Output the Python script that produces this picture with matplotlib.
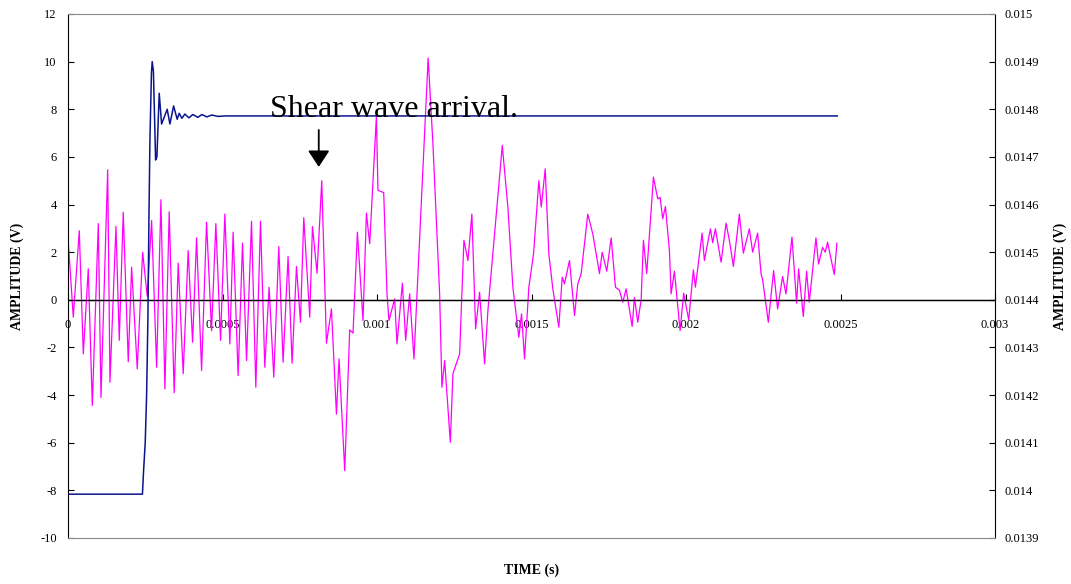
import matplotlib
matplotlib.use('Agg')
import matplotlib.pyplot as plt
from matplotlib.ticker import FuncFormatter, MultipleLocator
import numpy as np

plt.rcParams['font.family'] = ['Liberation Serif', 'DejaVu Serif']
plt.rcParams['axes.unicode_minus'] = False

# Trigger signal (blue), time in microseconds, amplitude in V
trig_t_us = [0, 240.9, 244.7, 249.9, 254.4, 258.6, 261.9, 265.1, 270.0, 272.5, 276.4,
             283.5, 287.7, 295.2, 302.9, 321.0, 329.8, 341.7, 353.4, 359.8, 368.6,
             378.3, 391.2, 404.1, 420.3, 433.2, 449.4, 465.6, 485.0, 507.6, 2489.5]
trig_v = [-8.16, -8.16, -7.15, -6.0, -4.0, -0.77, 3.4, 6.7, 9.5, 10.0, 9.6,
          5.87, 6.0, 8.67, 7.38, 8.0, 7.38, 8.14, 7.58, 7.83, 7.62,
          7.8, 7.64, 7.78, 7.66, 7.78, 7.68, 7.76, 7.7, 7.72, 7.72]

# Receiver signal (magenta), time in microseconds, amplitude in V
recv_t_us = [0, 17.1, 36.5, 49.5, 65.6, 78.6, 98.0, 106.7, 128.4, 135.8, 155.2, 165.9,
             178.8, 195.0, 205.9, 224.1, 241.5, 256.4, 270.6, 286.8, 300.7, 313.6,
             327.5, 343.7, 356.6, 372.8, 388.9, 403.2, 416.1, 432.3, 448.4, 464.6,
             478.5, 493.7, 507.6, 523.8, 534.4, 550.6, 564.8, 577.8, 593.9, 607.8,
             623.0, 636.9, 650.8, 666.0, 682.2, 696.1, 712.2, 725.2, 739.4, 752.3,
             763.0, 782.4, 791.1, 806.0, 821.2, 836.4, 852.6, 868.7, 877.1, 895.6,
             911.7, 922.4, 936.6, 954.7, 965.7, 976.4, 998.0, 1003.2, 1021.7, 1032.3,
             1038.8, 1057.2, 1064.7, 1082.1, 1092.8, 1105.7, 1119.6, 1165.5, 1181.0,
             1202.7, 1210.1, 1218.9, 1237.3, 1245.7, 1267.4, 1281.3, 1294.2, 1307.1,
             1319.1, 1332.0, 1348.2, 1358.9, 1405.4, 1423.5, 1439.7, 1459.1, 1467.8,
             1477.5, 1491.4, 1506.6, 1523.8, 1531.5, 1544.4, 1556.1, 1569.0, 1588.4,
             1599.4, 1606.8, 1623.0, 1639.2, 1649.8, 1660.8, 1682.1, 1698.3, 1720.0,
             1728.7, 1743.6, 1757.8, 1771.7, 1784.7, 1795.3, 1806.3, 1825.7, 1833.2,
             1843.8, 1854.8, 1862.2, 1872.9, 1894.6, 1908.5, 1916.2, 1924.7, 1933.4,
             1946.3, 1951.8, 1962.5, 1980.9, 1992.5, 2008.7, 2023.9, 2030.4, 2041.1,
             2052.1, 2059.5, 2078.9, 2086.3, 2095.1, 2113.5, 2129.7, 2140.3, 2153.3,
             2172.7, 2185.6, 2205.0, 2215.7, 2231.8, 2242.8, 2248.0, 2266.4, 2283.5,
             2296.5, 2312.6, 2323.6, 2343.0, 2357.9, 2364.4, 2379.6, 2390.3, 2398.9,
             2420.6, 2429.0, 2441.9, 2450.7, 2458.1, 2479.8, 2488.5]
recv_v = [2.6, -0.73, 2.9, -2.27, 1.3, -4.44, 3.2, -4.1, 5.46, -3.46, 3.08, -1.7,
          3.68, -2.6, 1.37, -2.9, 2.0, 0.15, 3.33, -2.83, 4.2, -3.74,
          3.7, -3.9, 1.54, -3.1, 2.07, -1.78, 2.6, -2.97, 3.26, -1.3,
          3.2, -1.7, 3.6, -1.85, 2.84, -3.18, 2.38, -2.55, 3.3, -3.67,
          3.3, -2.83, 0.53, -3.25, 2.24, -2.62, 1.82, -2.66, 1.4, -0.94,
          3.45, -0.73, 3.08, 1.12, 5.0, -1.82, -0.38, -4.8, -2.48, -7.17,
          -1.26, -1.4, 2.84, -0.87, 3.64, 2.35, 7.7, 4.6, 4.5, 0.25,
          -0.87, 0.04, -1.85, 0.7, -1.7, 0.25, -2.48, 10.15, 6.55,
          0.25, -3.67, -2.55, -5.98, -3.1, -2.27, 2.5, 1.65, 3.6,
          -1.22, 0.32, -2.69, -0.45, 6.48, 3.9, 0.53, -1.57, -0.59,
          -2.48, 0.53, 1.93, 5.0, 3.9, 5.5, 1.93, 0.46, -1.15,
          0.95, 0.67, 1.65, -0.66, 0.67, 1.1, 3.6, 2.77, 1.1,
          2.0, 1.2, 2.6, 0.53, 0.4, -0.1, 0.46, -1.12, 0.1,
          -0.94, 0.0, 2.5, 1.1, 5.15, 4.24, 4.3, 3.4, 3.92,
          2.07, 0.25, 1.2, -1.29, 0.28, -0.84, 1.26, 0.53, 1.65,
          2.8, 1.65, 2.98, 2.4, 2.98, 1.58, 3.22, 2.5, 1.4,
          3.6, 1.96, 2.98, 2.0, 2.8, 1.1, 0.84, -0.94, 1.23,
          -0.38, 0.98, 0.25, 2.63, -0.14, 1.3, -0.7, 1.2, -0.1,
          2.6, 1.5, 2.2, 2.0, 2.42, 1.06, 2.38]

arrow_t_us = 811.5
arrow_from_v = 7.13
arrow_to_v = 5.58
label_t_us = 653
label_v = 7.68

trig_t = np.array(trig_t_us) * 1e-6
recv_t = np.array(recv_t_us) * 1e-6

fig = plt.figure(figsize=(10.71, 5.84), dpi=100)
ax = fig.add_axes([68 / 1071, 1 - 538 / 584, (995 - 68) / 1071, (538 - 14) / 584])
ax2 = ax.twinx()

ax.set_xlim(0, 0.003)
ax.set_ylim(-10, 12)
ax2.set_ylim(0.0139, 0.015)

ax.axhline(0, color='black', lw=1.0, zorder=1)
ax.plot(recv_t, recv_v, color='#ff00ff', lw=0.9, zorder=2)
ax.plot(trig_t, trig_v, color='#0a148c', lw=1.1, zorder=3)

# spines: gray frame top/bottom, black value axes, x axis on the zero line
ax.spines['top'].set_visible(False)
ax.spines['right'].set_visible(False)
ax.spines['left'].set_color('black')
ax.spines['bottom'].set_position(('data', 0))
ax.spines['bottom'].set_color('black')
ax2.spines['left'].set_visible(False)
ax2.spines['top'].set_color('#888888')
ax2.spines['bottom'].set_color('#888888')
ax2.spines['right'].set_color('black')

ax.xaxis.set_major_locator(MultipleLocator(0.0005))
ax.yaxis.set_major_locator(MultipleLocator(2))
ax2.yaxis.set_major_locator(MultipleLocator(0.0001))

fmt = FuncFormatter(lambda v, p: '%g' % round(v, 6))
ax.xaxis.set_major_formatter(fmt)
ax.yaxis.set_major_formatter(fmt)
ax2.yaxis.set_major_formatter(fmt)

ax.tick_params(axis='x', direction='in', length=4, pad=14, labelsize=9)
ax.tick_params(axis='y', direction='in', length=4, pad=8, labelsize=9)
ax2.tick_params(axis='y', direction='in', length=4, pad=7, labelsize=9)
ax2.tick_params(axis='x', bottom=False, labelbottom=False)

ax.set_ylabel('AMPLITUDE (V)', fontsize=10, fontweight='bold', labelpad=12)
ax2.set_ylabel('AMPLITUDE (V)', fontsize=10, fontweight='bold', labelpad=10)
fig.text(532 / 1071, 1 - 570 / 584, 'TIME (s)', fontsize=10, fontweight='bold',
         ha='center', va='center')

ax.text(label_t_us * 1e-6, label_v, 'Shear wave arrival.', fontsize=23,
        ha='left', va='baseline', zorder=5)
ax.annotate('', xy=(arrow_t_us * 1e-6, arrow_to_v),
            xytext=(arrow_t_us * 1e-6, arrow_from_v),
            arrowprops=dict(arrowstyle='-|>,head_length=0.5,head_width=0.33',
                            color='black', lw=1.3, mutation_scale=20,
                            shrinkA=0, shrinkB=0), zorder=5)

fig.savefig('out.png', dpi=100)
